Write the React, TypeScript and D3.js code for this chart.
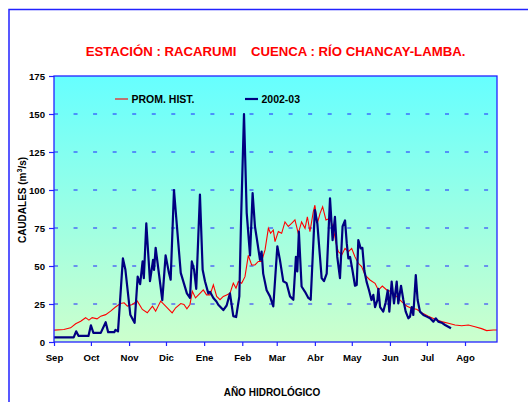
import { useRef, useEffect } from 'react'
import * as d3 from 'd3'

// month labels and the day (from 1 Sep) each month starts on
const months = ['Sep', 'Oct', 'Nov', 'Dic', 'Ene', 'Feb', 'Mar', 'Abr', 'May', 'Jun', 'Jul', 'Ago']
const monthStart = [0, 30, 61, 91, 122, 153, 181, 212, 242, 273, 303, 334]
const yTicks = [0, 25, 50, 75, 100, 125, 150, 175]

// PROM. HIST. (red)
const histDays = [0, 8, 13.5, 17.6, 21.7, 25.7, 28.4, 31, 35, 38, 42, 46, 50, 54, 57, 59.6, 63.6, 67.7, 71.8, 75.8, 80, 82.6, 86.7, 90.7, 96, 98.9, 103, 105.6, 108, 110.5, 112.4, 115, 118.6, 121.3, 124, 126.8, 129.5, 132.2, 134.9, 137.6, 140.3, 143, 145.7, 147.9, 149.8, 152.5, 155.2, 157.9, 160.6, 163.3, 166, 168.7, 171.5, 174.2, 176, 178.2, 179.6, 182.3, 185, 187.7, 190.4, 193.1, 195.8, 198.5, 201.2, 204, 205.9, 208, 210.7, 212, 214, 216.2, 218.3, 221, 224.3, 227, 229.2, 231, 233.8, 236.5, 239.2, 241.9, 244.6, 247.3, 250, 252.8, 256.8, 260.9, 263.6, 266.8, 270.4, 274.4, 278.5, 282.5, 286.6, 290.7, 294.7, 298.8, 304.2, 309.6, 315, 320.5, 325.9, 331.3, 336.7, 342.1, 347.5, 351.6, 357, 360]
const histVals = [7.8, 8.2, 9.3, 12, 13.7, 16, 14.4, 16, 15.2, 17, 18, 20.3, 23, 25.3, 25.8, 23.6, 24.7, 26.9, 21.4, 19.2, 23.6, 20.3, 26.9, 23.6, 19.2, 22.5, 25.3, 24.7, 21.8, 24.7, 33.4, 29, 32, 34.3, 31, 31, 37.6, 30, 27.8, 30, 31, 32, 38.7, 35.4, 39.8, 38.7, 43, 57, 50.7, 50.7, 53, 53, 60.6, 74.8, 71.5, 73.7, 66, 72.6, 71.5, 79, 76, 78, 80.3, 71.5, 79, 74.8, 82.4, 72.6, 85.7, 90, 78, 84.6, 89, 80.3, 81.4, 74.8, 65, 59.5, 57.3, 61.6, 59.4, 61.6, 56, 51.8, 49.6, 44, 40.8, 38.6, 34.2, 36.8, 34.2, 33, 29.8, 26.5, 23.7, 22, 21.5, 19.3, 17, 15, 13.4, 12.3, 11.2, 10.7, 11.2, 10, 8.8, 7.5, 7.9, 7.9]

// 2002-03 (navy)
const yearDays = [0, 8, 16, 18, 20, 28, 30, 32, 38, 42, 44, 49, 50, 52, 56, 58, 62, 65.5, 68, 70, 72, 73, 75, 78, 80.5, 81.3, 82.6, 88, 90.7, 93.4, 94.8, 97.5, 103, 108, 110.5, 112, 113.8, 115.6, 118.6, 120.8, 122.7, 125.4, 126.8, 129.5, 132, 133.5, 137.6, 140.3, 143, 145.7, 148, 150.6, 152, 154.4, 156.6, 159.3, 161.4, 163.3, 165, 167.4, 168.7, 170, 172.8, 175.5, 178.2, 181.5, 183.6, 186.3, 189, 191.8, 194.5, 196.6, 197.7, 199, 201.2, 204, 206.7, 208.6, 212, 214, 217.5, 219.4, 221.6, 224.3, 226.4, 228.3, 230.2, 232.4, 234.5, 236.5, 237.9, 239.2, 240.6, 242.5, 244.6, 246, 247.3, 249.2, 250.6, 252.2, 254, 256, 258, 259.5, 260.9, 262.8, 263.6, 265, 267.6, 269.5, 271.2, 272.5, 274.4, 276.3, 278.5, 279.8, 282, 283.9, 285.8, 288, 289.3, 290.7, 292, 294, 295.5, 297.4, 300.2, 302.9, 305.6, 308.3, 310.2, 312.3, 315, 317.8, 322.6]
const yearVals = [3, 3, 3, 7, 4, 4, 11, 6, 6, 13, 6.5, 6.5, 8, 7, 55, 47.7, 18, 12.6, 43, 38, 53, 42, 78, 40, 54, 47.5, 62, 27.5, 57, 45.5, 41, 100, 45.5, 32, 29, 53, 47.7, 35, 97, 47.5, 40, 32, 33, 29, 26.7, 24.5, 21, 24, 32, 17, 16.4, 30, 80, 150, 85, 57, 98, 76, 67, 54, 59.5, 45, 34, 30, 23.4, 63, 54, 40, 38.7, 30, 27.8, 56, 46.4, 72.6, 36.5, 33, 29, 27.8, 86.8, 78, 42, 40, 45, 94.5, 67, 82.4, 56, 42, 76, 80, 65, 55, 56, 47.4, 37, 37.5, 67, 61.6, 62, 47, 39.7, 34, 27.6, 31, 23, 27.6, 35, 23, 20, 26, 34, 20, 39.7, 25.4, 39.7, 25.4, 37, 27.6, 20, 15.6, 16.7, 23, 17.8, 44, 27.6, 20, 17.8, 16.7, 15.6, 13.4, 15.6, 13.4, 12.7, 11.2, 9]

const FONT = '"Liberation Sans", Arial, sans-serif'
const BLUE = '#2222ff'

export default function App() {
  const ref = useRef<SVGSVGElement | null>(null)

  useEffect(() => {
    if (!ref.current) return
    const svg = d3.select(ref.current)
    svg.selectAll('*').remove()

    const left = 54, right = 497, top = 76, bottom = 342
    const x = d3.scaleLinear().domain([0, 360]).range([left, right])
    const y = d3.scaleLinear().domain([0, 175]).range([bottom, top])

    const defs = svg.append('defs')
    const grad = defs.append('linearGradient').attr('id', 'bg').attr('x1', 0).attr('y1', 0).attr('x2', 0).attr('y2', 1)
    grad.append('stop').attr('offset', '0%').attr('stop-color', '#66ffff')
    grad.append('stop').attr('offset', '100%').attr('stop-color', '#ccffcc')
    defs.append('clipPath').attr('id', 'plot').append('rect')
      .attr('x', left).attr('y', top).attr('width', right - left).attr('height', bottom - top)

    // outer frame
    svg.append('rect').attr('x', 9).attr('y', 9.5).attr('width', 600).attr('height', 500)
      .attr('fill', 'white').attr('stroke', BLUE).attr('stroke-width', 1.5)

    svg.append('text').attr('x', 275.5).attr('y', 56).attr('text-anchor', 'middle')
      .attr('font-family', FONT).attr('font-size', '13.2px').attr('font-weight', 'bold').attr('fill', '#ff0000')
      .attr('xml:space', 'preserve')
      .text('ESTACIÓN : RACARUMI    CUENCA : RÍO CHANCAY-LAMBA.')

    svg.append('rect').attr('x', left).attr('y', top).attr('width', right - left).attr('height', bottom - top)
      .attr('fill', 'url(#bg)')

    // dashed gridlines
    yTicks.filter(t => t > 0 && t < 175).forEach(t => {
      svg.append('line').attr('x1', left).attr('x2', right).attr('y1', y(t)).attr('y2', y(t))
        .attr('stroke', BLUE).attr('stroke-width', 1).attr('stroke-dasharray', '4 15.55')
    })

    const g = svg.append('g').attr('clip-path', 'url(#plot)')
    const line = d3.line<number>().x(d => x(d[0])).y(d => y(d[1]))
    g.append('path').datum(histDays.map((d, i) => [d, histVals[i]]))
      .attr('d', line as any).attr('fill', 'none').attr('stroke', '#ff0000').attr('stroke-width', 1.1)
    g.append('path').datum(yearDays.map((d, i) => [d, yearVals[i]]))
      .attr('d', line as any).attr('fill', 'none').attr('stroke', '#000080').attr('stroke-width', 2.2)
      .attr('stroke-linejoin', 'round')

    // plot border
    svg.append('rect').attr('x', left).attr('y', top).attr('width', right - left).attr('height', bottom - top)
      .attr('fill', 'none').attr('stroke', BLUE).attr('stroke-width', 1.3)

    const yAxis = svg.append('g').attr('transform', `translate(${left},0)`)
      .call(d3.axisLeft(y).tickValues(yTicks).tickSize(5).tickSizeOuter(0).tickPadding(4))
    yAxis.select('.domain').remove()
    yAxis.selectAll('line').attr('stroke', BLUE).attr('stroke-width', 1.2)
    yAxis.selectAll('text').attr('font-family', FONT).attr('font-size', '9.6px').attr('font-weight', 'bold').attr('fill', '#000')

    const xAxis = svg.append('g').attr('transform', `translate(0,${bottom})`)
      .call(d3.axisBottom(x).tickValues(monthStart).tickSize(4).tickSizeOuter(0).tickPadding(8)
        .tickFormat((_, i) => months[i]))
    xAxis.select('.domain').remove()
    xAxis.selectAll('line').attr('stroke', BLUE).attr('stroke-width', 1.2)
    xAxis.selectAll('text').attr('font-family', FONT).attr('font-size', '9.6px').attr('font-weight', 'bold').attr('fill', '#000')

    const yTitle = svg.append('text').attr('transform', 'rotate(-90)').attr('x', -200).attr('y', 26)
      .attr('text-anchor', 'middle').attr('font-family', FONT).attr('font-size', '10px').attr('font-weight', 'bold')
    yTitle.append('tspan').text('CAUDALES (m')
    yTitle.append('tspan').attr('font-size', '7px').attr('dy', -4).text('3')
    yTitle.append('tspan').attr('dy', 4).text('/s)')

    svg.append('text').attr('x', 272).attr('y', 396).attr('text-anchor', 'middle')
      .attr('font-family', FONT).attr('font-size', '10px').attr('font-weight', 'bold')
      .text('AÑO HIDROLÓGICO')

    // legend
    const legend = [
      { label: 'PROM. HIST.', color: '#ff0000', w: 1.1, x0: 115 },
      { label: '2002-03', color: '#000080', w: 2.2, x0: 245 },
    ]
    legend.forEach(l => {
      svg.append('line').attr('x1', l.x0).attr('x2', l.x0 + 13).attr('y1', 99).attr('y2', 99)
        .attr('stroke', l.color).attr('stroke-width', l.w)
      svg.append('text').attr('x', l.x0 + 16.5).attr('y', 103)
        .attr('font-family', FONT).attr('font-size', '10.5px').attr('font-weight', 'bold').text(l.label)
    })
  }, [])

  return (
    <svg ref={ref} width={528} height={402}
      style={{ position: 'absolute', left: 0, top: 0, background: 'white' }} />
  )
}
